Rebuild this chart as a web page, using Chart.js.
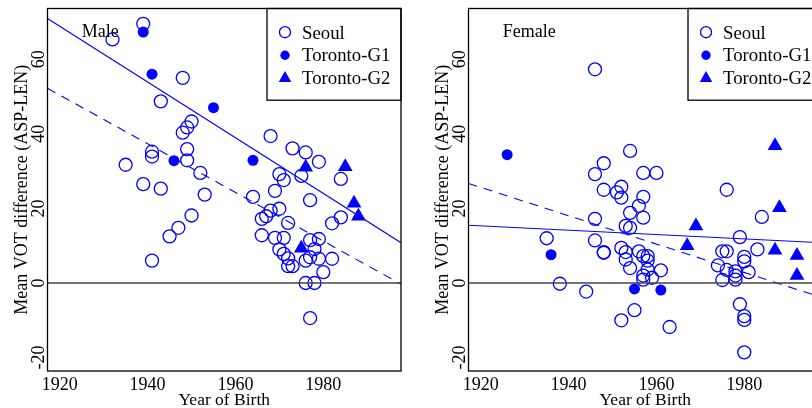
<!DOCTYPE html>
<html lang="en">
<head>
<meta charset="UTF-8" />
<title>Mean VOT difference by year of birth</title>
<script src="https://cdn.jsdelivr.net/npm/chart.js"></script>
<style>
  body { margin: 0; background: #fff; overflow: hidden; }
  .wrap { position: relative; width: 812px; height: 408px; overflow: hidden; }
  canvas { position: absolute; top: 0; }
  #maleChart { left: 0; }
  #femaleChart { left: 421px; }
</style>
</head>
<body>
<div class="wrap">
  <canvas id="maleChart" width="421" height="408"></canvas>
  <canvas id="femaleChart" width="421" height="408"></canvas>
</div>
<script>
// axis setup
const xTicks = [1920, 1940, 1960, 1980];
const yTicks = [-20, 0, 20, 40, 60];
const xRange = [1917.2, 1997.7];
const yRange = [-23.6, 73.6];
const legendLabels = ['Seoul', 'Toronto-G1', 'Toronto-G2'];

// Male panel
const maleSeoulYear = [1939, 1932, 1948, 1943, 1950, 1949, 1948, 1968, 1941, 1941, 1949, 1949, 1935, 1973, 1976, 1979,
  1952, 1984, 1970, 1971, 1975, 1939, 1943, 1953, 1964, 1969, 1977, 1950, 1947, 1945, 1941, 1970, 1968, 1967, 1966,
  1972, 1966, 1969, 1971, 1970, 1971, 1972, 1972, 1973, 1977, 1979, 1978, 1977, 1976, 1979, 1982, 1980, 1976, 1978,
  1977, 1982, 1984];
const maleSeoulVot = [69.5, 65.3, 55.0, 48.7, 43.3, 41.7, 40.3, 39.4, 35.2, 33.9, 35.9, 32.9, 31.7, 36.1, 35.0, 32.5,
  29.5, 27.9, 29.2, 27.6, 28.7, 26.5, 25.3, 23.7, 23.1, 24.7, 22.2, 18.1, 14.8, 12.5, 6.0, 19.9, 19.4, 17.9, 17.2,
  16.1, 12.8, 12.1, 12.1, 9.0, 7.8, 6.6, 4.5, 4.5, 11.5, 11.8, 9.1, 6.9, 6.0, 6.5, 6.5, 2.9, 0.0, 0.0,
  -9.4, 16.0, 17.6];
const maleG1Year = [1939, 1941, 1955, 1946, 1964];
const maleG1Vot = [67.3, 56.0, 47.0, 32.8, 32.9];
const maleG2Year = [1976, 1985, 1987, 1988, 1975];
const maleG2Vot = [31.0, 31.2, 21.4, 17.9, 9.3];
const maleFitSolid = [70.9, 10.8];   // at xRange ends
const maleFitDashed = [52.2, -0.3];

// Female panel
const femaleSeoulYear = [1946, 1954, 1948, 1946, 1957, 1960, 1948, 1952, 1951, 1952, 1957, 1976, 1956, 1954, 1957,
  1946, 1953, 1954, 1935, 1946, 1948, 1948, 1952, 1953, 1953, 1954, 1956, 1957, 1958, 1958, 1958, 1957, 1957, 1959,
  1961, 1938, 1944, 1955, 1952, 1963, 1974, 1975, 1976, 1975, 1976, 1979, 1978, 1978, 1978, 1979, 1980, 1980, 1981,
  1980, 1980, 1980, 1983, 1984];
const femaleSeoulVot = [57.3, 35.4, 32.1, 29.2, 29.5, 29.5, 25.0, 25.8, 24.3, 22.9, 23.1, 25.0, 20.7, 18.8, 17.5,
  17.2, 15.3, 14.8, 12.0, 11.4, 8.3, 8.1, 9.4, 8.3, 6.3, 4.0, 8.5, 7.2, 7.2, 6.0, 3.6, 2.0, 0.9, 1.4,
  3.4, -0.2, -2.3, -7.3, -10.0, -11.8, 4.7, 8.5, 8.5, 0.8, 3.5, 12.3, 3.1, 2.0, 0.9, -5.7, 7.0, 5.8, 2.9,
  -8.9, -9.9, -18.6, 9.0, 17.7];
const femaleG1Year = [1926, 1936, 1955, 1961];
const femaleG1Vot = [34.4, 7.6, -1.6, -1.9];
const femaleG2Year = [1967, 1969, 1987, 1988, 1987, 1992, 1992];
const femaleG2Vot = [10.0, 15.3, 36.8, 20.2, 8.8, 7.4, 2.0];
const femaleFitSolid = [15.5, 10.8];
const femaleFitDashed = [26.7, -3.9];

const BLUE = '#0000ff';
const SERIF = "'Liberation Serif', 'Times New Roman', serif";

function pts(xs, ys) {
  return xs.map((x, i) => ({ x: x, y: ys[i] }));
}

function drawMarker(ctx, kind, x, y, s) {
  ctx.beginPath();
  if (kind === 'triangle') {
    const r = 8.5 * s;
    ctx.moveTo(x, y - r);
    ctx.lineTo(x + r * 0.866, y + r / 2);
    ctx.lineTo(x - r * 0.866, y + r / 2);
    ctx.closePath();
    ctx.fillStyle = BLUE;
    ctx.fill();
  } else if (kind === 'filled') {
    ctx.arc(x, y, 5.5 * s, 0, Math.PI * 2);
    ctx.fillStyle = BLUE;
    ctx.fill();
  } else {
    ctx.arc(x, y, 6.5 * s, 0, Math.PI * 2);
    ctx.strokeStyle = BLUE;
    ctx.lineWidth = 1.3;
    ctx.stroke();
  }
}

const rFrame = {
  id: 'rFrame',
  afterDraw(chart, args, opts) {
    const ctx = chart.ctx;
    const a = chart.chartArea;
    const yScale = chart.scales.y;
    ctx.save();
    // box
    ctx.strokeStyle = '#000';
    ctx.lineWidth = 1.3;
    ctx.strokeRect(a.left, a.top, a.right - a.left, a.bottom - a.top);

    ctx.fillStyle = '#000';
    ctx.font = '18px ' + SERIF;
    // rotated y tick labels
    yTicks.forEach(v => {
      const py = yScale.getPixelForValue(v);
      ctx.save();
      ctx.translate(a.left - 3.6, py);
      ctx.rotate(-Math.PI / 2);
      ctx.textAlign = 'center';
      ctx.textBaseline = 'alphabetic';
      ctx.fillText(String(v), 0, 0);
      ctx.restore();
    });

    // axis titles
    ctx.font = '18px ' + SERIF;
    ctx.save();
    ctx.translate(a.left - 20.4, (a.top + a.bottom) / 2);
    ctx.rotate(-Math.PI / 2);
    ctx.textAlign = 'center';
    ctx.fillText('Mean VOT difference (ASP-LEN)', 0, 0);
    ctx.restore();
    ctx.font = '17.5px ' + SERIF;
    ctx.textAlign = 'center';
    ctx.fillText('Year of Birth', (a.left + a.right) / 2, 404.5);

    // panel label
    ctx.font = '18px ' + SERIF;
    ctx.textAlign = 'left';
    ctx.fillText(opts.label, a.left + 34.3, 36.7);

    // legend
    const lx = a.left + 219.5;
    ctx.strokeStyle = '#000';
    ctx.lineWidth = 1.3;
    ctx.strokeRect(lx, a.top, a.right - lx, 91.7);
    ctx.font = '18.8px ' + SERIF;
    const kinds = ['open', 'filled', 'triangle'];
    const rowMark = [23.7, 46.7, 69.8];
    const rowText = [30, 52.7, 75.4];
    legendLabels.forEach((t, i) => {
      drawMarker(ctx, kinds[i], lx + 18, a.top + rowMark[i], 0.85);
      ctx.fillStyle = '#000';
      ctx.fillText(t, lx + 35, a.top + rowText[i]);
    });
    ctx.restore();
  }
};

function makePanel(id, label, seoul, g1, g2, fitSolid, fitDashed) {
  const ctx = document.getElementById(id).getContext('2d');
  return new Chart(ctx, {
    type: 'scatter',
    data: {
      datasets: [
        {
          label: 'zero',
          data: [{ x: xRange[0], y: 0 }, { x: xRange[1], y: 0 }],
          showLine: true, borderColor: '#444', borderWidth: 1.5, pointRadius: 0
        },
        {
          label: 'fit',
          data: [{ x: xRange[0], y: fitSolid[0] }, { x: xRange[1], y: fitSolid[1] }],
          showLine: true, borderColor: BLUE, borderWidth: 1.1, pointRadius: 0
        },
        {
          label: 'fit dashed',
          data: [{ x: xRange[0], y: fitDashed[0] }, { x: xRange[1], y: fitDashed[1] }],
          showLine: true, borderColor: BLUE, borderWidth: 1.1, borderDash: [9, 7], pointRadius: 0
        },
        {
          label: legendLabels[0], data: seoul,
          pointStyle: 'circle', pointRadius: 6.5, pointBorderWidth: 1.3,
          pointBorderColor: BLUE, pointBackgroundColor: 'rgba(0,0,0,0)'
        },
        {
          label: legendLabels[1], data: g1,
          pointStyle: 'circle', pointRadius: 5.5, pointBorderWidth: 0,
          pointBackgroundColor: BLUE
        },
        {
          label: legendLabels[2], data: g2,
          pointStyle: 'triangle', pointRadius: 8.5, pointBorderWidth: 0,
          pointBackgroundColor: BLUE
        }
      ]
    },
    options: {
      responsive: false,
      animation: false,
      events: [],
      layout: { padding: { top: 7.3, right: 20, left: 0, bottom: 0 } },
      plugins: {
        legend: { display: false },
        tooltip: { enabled: false },
        rFrame: { label: label }
      },
      scales: {
        x: {
          type: 'linear', min: xRange[0], max: xRange[1],
          afterBuildTicks: s => { s.ticks = xTicks.map(v => ({ value: v })); },
          afterFit: s => { s.height = 37; },
          grid: { display: false },
          border: { display: false },
          ticks: {
            color: '#000', padding: -5, maxRotation: 0, autoSkip: false,
            font: { family: SERIF, size: 18 },
            callback: v => String(v)
          }
        },
        y: {
          type: 'linear', min: yRange[0], max: yRange[1],
          afterBuildTicks: s => { s.ticks = yTicks.map(v => ({ value: v })); },
          afterFit: s => { s.width = 47.5; },
          grid: { display: false },
          border: { display: false },
          ticks: { display: false }
        }
      }
    },
    plugins: [rFrame]
  });
}

makePanel('maleChart', 'Male', pts(maleSeoulYear, maleSeoulVot), pts(maleG1Year, maleG1Vot),
  pts(maleG2Year, maleG2Vot), maleFitSolid, maleFitDashed);
makePanel('femaleChart', 'Female', pts(femaleSeoulYear, femaleSeoulVot), pts(femaleG1Year, femaleG1Vot),
  pts(femaleG2Year, femaleG2Vot), femaleFitSolid, femaleFitDashed);
</script>
</body>
</html>
